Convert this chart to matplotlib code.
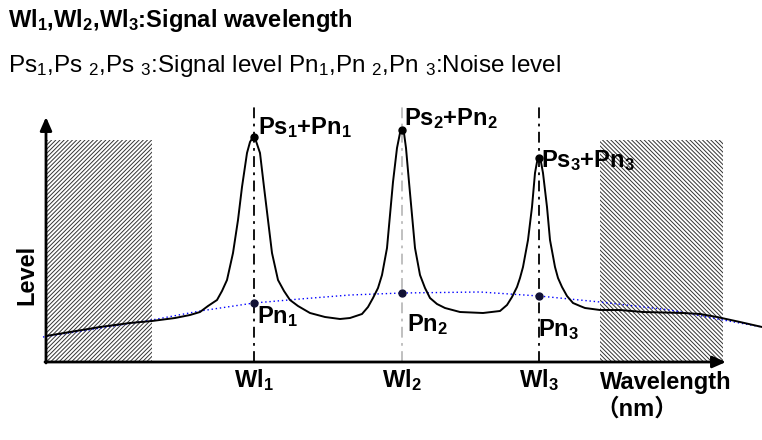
import matplotlib
matplotlib.use("Agg")
import matplotlib.pyplot as plt
from matplotlib.patches import Rectangle

plt.rcParams['font.family'] = ['Liberation Sans', 'Noto Sans CJK JP', 'DejaVu Sans']
plt.rcParams['mathtext.fontset'] = 'custom'
plt.rcParams['mathtext.rm'] = 'Liberation Sans'
plt.rcParams['mathtext.it'] = 'Liberation Sans'
plt.rcParams['mathtext.bf'] = 'Liberation Sans:bold'
plt.rcParams['hatch.linewidth'] = 0.7

# schematic spectrum (wavelength units, level units)
spec_x = [0, 24, 54, 84, 106, 129, 144, 154, 162, 171, 176, 181, 187, 192, 196, 201, 204, 207,
          210, 214, 218, 222, 226, 232, 238, 244, 252, 264, 279, 294, 304, 316, 322, 327, 332,
          336, 341, 344, 347, 351, 354, 356, 358, 360, 363, 366, 369, 374, 379, 384, 391,
          399, 414, 437, 454, 461, 466, 471, 474, 477, 482, 486, 489, 491, 493, 495, 497,
          501, 504, 509, 512, 516, 521, 527, 534, 539, 554, 574, 597, 637, 654, 671, 694, 716]
spec_y = [26, 30, 35, 39, 41, 44, 47, 50, 56, 62, 71, 82, 109, 142, 175, 209, 220, 225,
          221, 209, 175, 142, 109, 82, 71, 62, 56, 49, 45, 43, 44, 48, 55, 64, 74,
          87, 114, 147, 180, 214, 229, 232, 229, 214, 180, 147, 114, 87, 74, 64, 58,
          54, 50, 49, 51, 57, 65, 75, 84, 95, 122, 155, 189, 200, 204, 200, 189,
          155, 122, 95, 84, 75, 66, 59, 56, 54, 52, 52, 50, 49, 48, 45, 40, 35]

# noise floor (blue dotted)
noise_x = [-3, 106, 154, 208, 254, 304, 356, 434, 493, 554, 624, 677, 716]
noise_y = [25, 42, 51, 59, 63, 67, 69, 70, 66, 60, 52, 42, 35]

signal_wl = [208, 356, 493]
peak_level = [225, 232, 204]
noise_level = [59, 69, 66]
wl_labels = ["Wl$_\\mathbf{1}$", "Wl$_\\mathbf{2}$", "Wl$_\\mathbf{3}$"]
peak_labels = ["Ps$_\\mathbf{1}$+Pn$_\\mathbf{1}$", "Ps$_\\mathbf{2}$+Pn$_\\mathbf{2}$",
               "Ps$_\\mathbf{3}$+Pn$_\\mathbf{3}$"]
noise_labels = ["Pn$_\\mathbf{1}$", "Pn$_\\mathbf{2}$", "Pn$_\\mathbf{3}$"]
wl_line_colors = ["black", "#bbbbbb", "black"]

# out-of-band regions
bands = [(0, 106, "////////"), (554, 677, "\\\\\\\\\\\\\\\\")]

fig = plt.figure(figsize=(7.62, 4.40), dpi=100)
ax = fig.add_axes([0, 0, 1, 1])
ax.set_xlim(-46, 716)
ax.set_ylim(-78, 362)
ax.axis("off")

for x0, x1, h in bands:
    ax.add_patch(Rectangle((x0, 0), x1 - x0, 222, facecolor="white",
                           edgecolor="#333333", hatch=h, lw=0, zorder=1))

for wl, c in zip(signal_wl, wl_line_colors):
    ax.plot([wl, wl], [0, 259], color=c, lw=1.3, linestyle=(0, (6, 3, 1.5, 3)), zorder=2)

ax.plot(noise_x, noise_y, color="blue", lw=1.0, linestyle=(0, (1, 2)), zorder=3)
ax.plot(spec_x, spec_y, color="black", lw=1.4, zorder=4)

ax.plot(signal_wl, peak_level, "o", color="black", ms=5, zorder=5)
ax.plot(signal_wl, noise_level, "o", color="#111133", ms=5, zorder=5)

# axes arrows
ax.annotate("", xy=(0, 245), xytext=(0, -1),
            arrowprops=dict(arrowstyle="-|>,head_length=0.8,head_width=0.35",
                            lw=2, color="black", shrinkA=0, shrinkB=0), zorder=6)
ax.annotate("", xy=(680, 0), xytext=(-1, 0),
            arrowprops=dict(arrowstyle="-|>,head_length=0.8,head_width=0.35",
                            lw=2, color="black", shrinkA=0, shrinkB=0), zorder=6)

fs = 17
txt = dict(fontweight="bold", color="black", zorder=7)
peak_dx = [4, 2, 2]
peak_dy = [9, 11, -3]
for wl, lv, lab, dx, dy in zip(signal_wl, peak_level, peak_labels, peak_dx, peak_dy):
    ax.text(wl + dx, lv + dy, lab, fontsize=fs, va="center", ha="left", **txt)
noise_dx = [3, 5, -1]
noise_dy = [-14, -32, -34]
for wl, lv, lab, dx, dy in zip(signal_wl, noise_level, noise_labels, noise_dx, noise_dy):
    ax.text(wl + dx, lv + dy, lab, fontsize=fs, va="center", ha="left", **txt)
for wl, lab in zip(signal_wl, wl_labels):
    ax.text(wl, -18, lab, fontsize=fs, va="center", ha="center", **txt)

ax.text(554, -20, "Wavelength", fontsize=fs, va="center", ha="left", **txt)
ax.text(549, -47, "（nm）", fontsize=17, va="center", ha="left", **txt)
ax.text(-19, 87, "Level", fontsize=fs, rotation=90, va="center", ha="center", **txt)

ax.text(-38, 342, "Wl$_\\mathbf{1}$,Wl$_\\mathbf{2}$,Wl$_\\mathbf{3}$:Signal wavelength",
        fontsize=fs, va="center", ha="left", **txt)
ax.text(-38, 296, "Ps$_1$,Ps $_2$,Ps $_3$:Signal level Pn$_1$,Pn $_2$,Pn $_3$:Noise level",
        fontsize=17.5, va="center", ha="left", color="black")

fig.savefig("out.png", dpi=100)
